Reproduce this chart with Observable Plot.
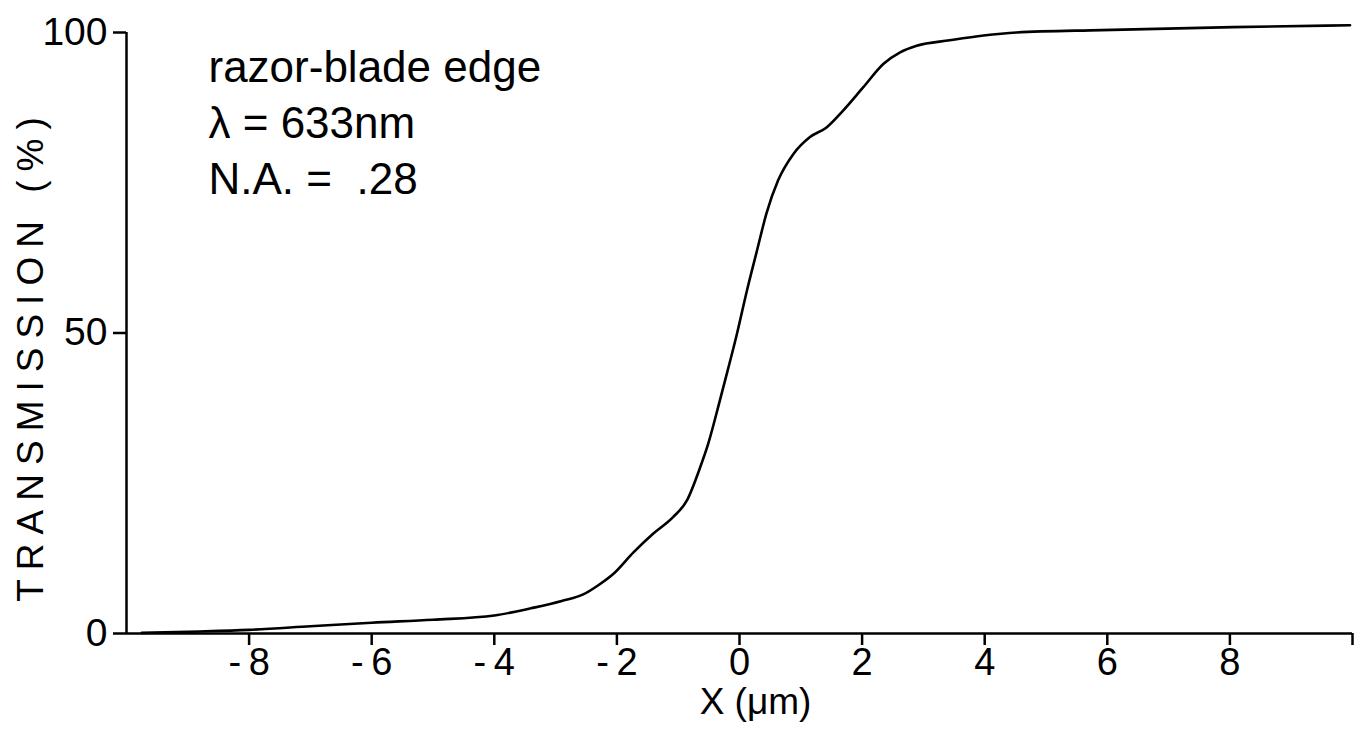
<!DOCTYPE html>
<html>
<head>
<meta charset="utf-8">
<script src="https://cdn.jsdelivr.net/npm/d3@7"></script>
<script src="https://cdn.jsdelivr.net/npm/@observablehq/plot@0.6"></script>
<style>
  html, body { margin: 0; padding: 0; background: #fff; }
  #chart svg { display: block; }
  .ylab text { letter-spacing: 9px; }
</style>
</head>
<body>
<div id="chart"></div>
<script>
// Data
const xValues = [-9.75, -9, -8, -7, -6, -5, -4, -3.4, -2.9, -2.55, -2.28, -2.06, -1.73, -1.41, -1.08, -0.86, -0.64, -0.51, -0.32, -0.2, -0.05, 0.12, 0.28, 0.44, 0.63, 0.88, 1.15, 1.42, 1.69, 2.02, 2.35, 2.62, 2.89, 3.43, 3.98, 4.52, 5.9, 8.05, 9.96];
const transmission = [0.1, 0.3, 0.6, 1.2, 1.8, 2.3, 3.0, 4.2, 5.4, 6.5, 8.2, 9.9, 13.5, 16.6, 19.4, 22.1, 27.7, 31.6, 38.8, 43.5, 49.5, 57.0, 63.5, 69.9, 75.4, 79.8, 82.6, 84.2, 87.0, 90.9, 94.8, 96.7, 97.8, 98.7, 99.5, 100.0, 100.4, 100.9, 101.2];
const xTicks = [-8, -6, -4, -2, 0, 2, 4, 6, 8, 10];
const yTicks = [0, 50, 100];
const annotationLines = ["razor-blade edge", "λ = 633nm", "N.A. =  .28"];
const xLabel = "X (μm)";
const yLabel = "TRANSMISSION (%)";

const data = xValues.map((x, i) => ({x, y: transmission[i]}));
const font = "'Liberation Sans', Arial, sans-serif";

const chart = Plot.plot({
  width: 1366,
  height: 747,
  marginLeft: 126,
  marginRight: 14,
  marginTop: 32,
  marginBottom: 114,
  style: {fontFamily: font, color: "#000", background: "#fff"},
  x: {domain: [-10, 10]},
  y: {domain: [0, 100]},
  marks: [
    Plot.axisX({
      ticks: xTicks, tickSize: 12, tickPadding: 3, fontSize: 38, strokeWidth: 2.5,
      tickFormat: d => d === 10 ? "" : (d < 0 ? "-\u2009" + (-d) : String(d)),
      label: null
    }),
    Plot.axisY({
      ticks: yTicks, tickSize: 13, tickPadding: 6, fontSize: 39, strokeWidth: 2.5,
      label: null
    }),
    Plot.ruleY([0], {stroke: "#000", strokeWidth: 2.5}),
    Plot.ruleX([-10], {stroke: "#000", strokeWidth: 2.5}),
    Plot.line(data, {x: "x", y: "y", curve: "monotone-x", stroke: "#000", strokeWidth: 2.6}),
    Plot.text([annotationLines.join("\n")], {
      frameAnchor: "top-left", text: d => d, textAnchor: "start", lineAnchor: "top",
      lineHeight: 1.28, dx: 82, dy: 9, fontSize: 44, fill: "#000"
    }),
    Plot.text([xLabel], {
      frameAnchor: "bottom", text: d => d, lineAnchor: "top", dx: 16, dy: 54, fontSize: 37, fill: "#000"
    }),
    Plot.text([yLabel], {
      frameAnchor: "left", text: d => d, rotate: -90, textAnchor: "middle", dx: -95, dy: 22, fontSize: 37, fill: "#000",
      className: "ylab"
    })
  ]
});
document.getElementById("chart").appendChild(chart);
</script>
</body>
</html>
